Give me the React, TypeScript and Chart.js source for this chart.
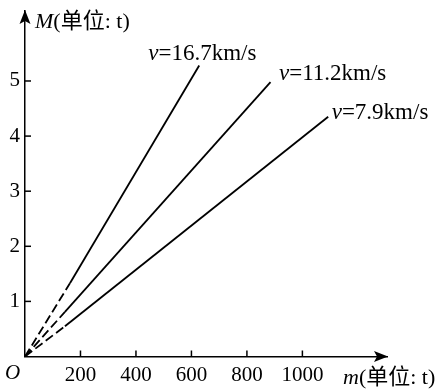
import React, { useEffect, useRef } from "react";
import { Chart, registerables } from "chart.js";

Chart.register(...registerables);

// ---- data ----
const X_TICKS = [200, 400, 600, 800, 1000];
const Y_TICKS = [1, 2, 3, 4, 5];
const X_MAX = 1305;
const Y_MAX = 6.27;
const SERIES_SPEEDS = ["16.7km/s", "11.2km/s", "7.9km/s"];
// dashed part ends here (m, M)
const DASH_END_m = [162, 144, 144];
const DASH_END_M = [1.33, 0.81, 0.55];
// solid part ends here (m, M)
const END_m = [628, 885, 1093];
const END_M = [5.28, 4.98, 4.35];

const X_TITLE_VAR = "m";
const Y_TITLE_VAR = "M";
const TITLE_UNIT = "(单位: t)";
const ORIGIN_LABEL = "O";

const SERIF = '"Liberation Serif", "Times New Roman", "Noto Sans CJK SC", serif';

// label offset from the end of each line (pixels): [dx, dy]
const LABEL_OFFSETS: [number, number][] = [
  [-51, -6],
  [8.5, -2],
  [3.5, 2],
];

function drawMixed(ctx: CanvasRenderingContext2D, x: number, y: number, italicPart: string, rest: string, size: number) {
  ctx.font = `italic ${size}px ${SERIF}`;
  ctx.fillText(italicPart, x, y);
  const w = ctx.measureText(italicPart).width;
  ctx.font = `${size}px ${SERIF}`;
  ctx.fillText(rest, x + w, y);
}

const decorPlugin = {
  id: "decor",
  afterDraw(chart: any) {
    const ctx: CanvasRenderingContext2D = chart.ctx;
    const xs = chart.scales.x;
    const ys = chart.scales.y;
    const x0 = xs.getPixelForValue(0);
    const y0 = ys.getPixelForValue(0);
    const xEnd = xs.getPixelForValue(X_MAX);
    const yTop = ys.getPixelForValue(Y_MAX);
    ctx.save();
    ctx.strokeStyle = "#000";
    ctx.fillStyle = "#000";
    ctx.lineWidth = 1.5;
    // tick marks pointing inward
    X_TICKS.forEach((v) => {
      const px = xs.getPixelForValue(v);
      ctx.beginPath();
      ctx.moveTo(px, y0);
      ctx.lineTo(px, y0 - 6);
      ctx.stroke();
    });
    Y_TICKS.forEach((v) => {
      const py = ys.getPixelForValue(v);
      ctx.beginPath();
      ctx.moveTo(x0, py);
      ctx.lineTo(x0 + 6, py);
      ctx.stroke();
    });
    // arrow heads
    ctx.beginPath();
    ctx.moveTo(xEnd + 1, y0);
    ctx.lineTo(xEnd - 13, y0 - 5.5);
    ctx.lineTo(xEnd - 10, y0);
    ctx.lineTo(xEnd - 13, y0 + 5.5);
    ctx.closePath();
    ctx.fill();
    ctx.beginPath();
    ctx.moveTo(x0, yTop - 1);
    ctx.lineTo(x0 - 5.5, yTop + 13);
    ctx.lineTo(x0, yTop + 10);
    ctx.lineTo(x0 + 5.5, yTop + 13);
    ctx.closePath();
    ctx.fill();

    // axis titles
    ctx.textBaseline = "alphabetic";
    ctx.textAlign = "left";
    drawMixed(ctx, x0 + 10, yTop + 17, Y_TITLE_VAR, TITLE_UNIT, 22);
    drawMixed(ctx, xEnd - 44, y0 + 27.5, X_TITLE_VAR, TITLE_UNIT, 22);
    ctx.font = `italic 21px ${SERIF}`;
    ctx.fillText(ORIGIN_LABEL, x0 - 20, y0 + 22);

    // line labels
    SERIES_SPEEDS.forEach((s, i) => {
      const ex = xs.getPixelForValue(END_m[i]);
      const ey = ys.getPixelForValue(END_M[i]);
      const [dx, dy] = LABEL_OFFSETS[i];
      drawMixed(ctx, ex + dx, ey + dy, "v", "=" + s, 23);
    });
    ctx.restore();
  },
};

export default function App() {
  const ref = useRef<HTMLCanvasElement | null>(null);
  useEffect(() => {
    document.body.style.margin = "0";
    const canvas = ref.current!;
    const datasets = SERIES_SPEEDS.map((s, i) => ({
      label: "v=" + s,
      data: [
        { x: 0, y: 0 },
        { x: DASH_END_m[i], y: DASH_END_M[i] },
        { x: END_m[i], y: END_M[i] },
      ],
      borderColor: "#000",
      borderWidth: 1.8,
      pointRadius: 0,
      fill: false,
      tension: 0,
      segment: {
        borderDash: (c: any) => (c.p0DataIndex === 0 ? [9, 4] : undefined),
      },
    }));
    const chart = new Chart(canvas, {
      type: "line",
      data: { datasets },
      options: {
        animation: false,
        responsive: false,
        devicePixelRatio: 1,
        layout: { padding: { top: 11, right: 53, left: 0, bottom: 0 } },
        plugins: { legend: { display: false }, tooltip: { enabled: false } },
        scales: {
          x: {
            type: "linear",
            min: 0,
            max: X_MAX,
            grid: { display: false, drawTicks: false },
            border: { display: true, color: "#000", width: 1.5 },
            afterBuildTicks: (s: any) => {
              s.ticks = X_TICKS.map((v) => ({ value: v }));
            },
            afterFit: (s: any) => {
              s.height = 34.5;
              s.paddingLeft = 0;
              s.paddingRight = 0;
            },
            ticks: {
              color: "#000",
              padding: 6,
              maxRotation: 0,
              autoSkip: false,
              font: { family: SERIF, size: 21 },
              callback: (v: any) => String(v),
            },
          },
          y: {
            type: "linear",
            min: 0,
            max: Y_MAX,
            grid: { display: false, drawTicks: false },
            border: { display: true, color: "#000", width: 1.5 },
            afterBuildTicks: (s: any) => {
              s.ticks = Y_TICKS.map((v) => ({ value: v }));
            },
            afterFit: (s: any) => {
              s.width = 25;
              s.paddingTop = 0;
              s.paddingBottom = 0;
            },
            ticks: {
              color: "#000",
              padding: 5,
              autoSkip: false,
              font: { family: SERIF, size: 21 },
              callback: (v: any) => String(v),
            },
          },
        },
      },
      plugins: [decorPlugin],
    });
    return () => chart.destroy();
  }, []);
  return (
    <div style={{ width: 440, height: 391 }}>
      <canvas ref={ref} width={440} height={391} style={{ display: "block" }} />
    </div>
  );
}
